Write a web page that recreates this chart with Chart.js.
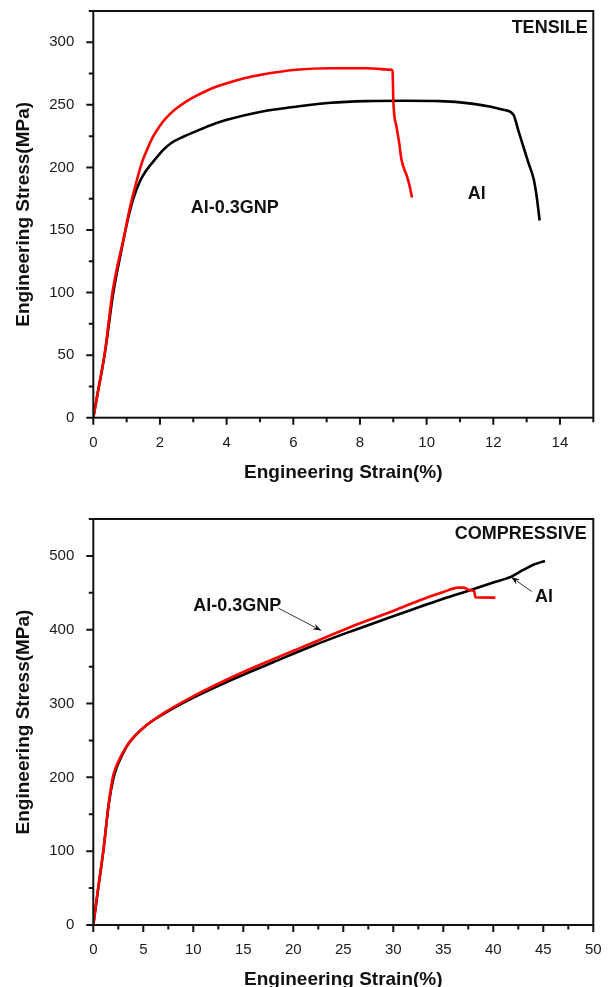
<!DOCTYPE html>
<html>
<head>
<meta charset="utf-8">
<script src="https://cdn.jsdelivr.net/npm/chart.js@4"></script>
<style>
  html, body { margin: 0; padding: 0; background: #fff; overflow: hidden; width: 611px; height: 987px; }
  #c1 { position: absolute; left: 0; top: 0; }
  #c2 { position: absolute; left: 0; top: 492px; }
</style>
</head>
<body>
<canvas id="c1" width="611" height="492"></canvas>
<canvas id="c2" width="611" height="500"></canvas>
<script>
// ---------------- DATA ----------------
// Tensile test (strain %, stress MPa)
const tensileStrainGNP = [0, 0.1, 0.35, 0.58, 0.94, 1.1, 1.29, 1.46, 1.64, 1.8, 1.99, 2.2, 2.46, 2.75, 3.04, 3.5, 3.98, 4.5, 5.03, 6.08, 7.13, 8.19, 8.95, 8.98, 9.0, 9.1, 9.18, 9.24, 9.42, 9.5, 9.56];
const tensileStressGNP = [0, 15, 53, 101, 147, 168, 188, 204, 216, 225, 233, 240, 246.5, 252, 256.5, 262.5, 267, 271, 274, 278, 279.2, 279.2, 278, 276.5, 254, 232, 219, 207, 192, 184, 176];
const tensileStrainAl  = [0, 0.1, 0.35, 0.6, 0.8, 1.05, 1.2, 1.4, 1.6, 1.87, 2.1, 2.34, 2.7, 3.04, 3.5, 3.98, 5.03, 6.08, 7.13, 8.19, 9.36, 10.4, 11.35, 11.93, 12.3, 12.6, 12.75, 12.9, 13.05, 13.22, 13.31, 13.39];
const tensileStressAl  = [0, 15, 52, 100, 128, 160, 175, 189, 198, 207, 214, 219.5, 224.5, 228.4, 233.5, 237.8, 244.5, 248.5, 251.7, 253, 253.3, 253, 251, 248.5, 246, 242.3, 229.6, 216.8, 204, 189.7, 175, 157.6];

// Compressive test (strain %, stress MPa)
const compStrainGNP = [0, 0.5, 1.0, 1.5, 1.95, 2.3, 2.74, 3.52, 5.08, 7.04, 10.16, 14.07, 17.98, 21.89, 25.8, 29.7, 32.67, 35.0, 36.5, 37.0, 37.67, 38.1, 38.2, 40.0, 40.2];
const compStressGNP = [0, 52, 100, 160, 200, 215, 228, 246, 268, 287, 311, 337, 360, 382, 404, 424, 440, 451, 457, 457, 453.6, 452, 444, 443.5, 443.5];
const compStrainAl  = [0, 0.5, 1.0, 1.56, 2.0, 2.3, 2.74, 3.52, 5.08, 7.04, 10.16, 14.07, 17.98, 21.89, 25.8, 29.7, 32.67, 35.0, 37.67, 40.0, 41.74, 43.0, 44.0, 45.17];
const compStressAl  = [0, 50, 100, 165, 198, 212, 226, 245.5, 268, 286, 309, 333.6, 356, 378, 398, 417, 431, 442, 453.6, 464, 471.6, 481, 488, 493.2];

// Axis ranges / ticks
const tensileXTicks = { min: 0, max: 15, minor: 1, major: 2 };
const tensileYTicks = { min: 0, max: 325, minor: 25, major: 50 };
const compXTicks = { min: 0, max: 50, minor: 2.5, major: 5 };
const compYTicks = { min: 0, max: 550, minor: 50, major: 100 };

const seriesNames = ['Al-0.3GNP', 'Al'];
const xTitle = 'Engineering Strain(%)';
const yTitle = 'Engineering Stress(MPa)';

// ---------------- HELPERS ----------------
const FONT = '"Liberation Sans", Arial, Helvetica, sans-serif';
Chart.defaults.font.family = FONT;
Chart.defaults.color = '#1a1a1a';

function pts(xs, ys) { return xs.map((v, i) => ({ x: v, y: ys[i] })); }
function isMajor(v, step) { const r = v / step; return Math.abs(r - Math.round(r)) < 1e-6; }

const frameTicks = {
  id: 'frameTicks',
  afterDraw(chart, args, opts) {
    const { ctx, chartArea: a, scales: { x, y } } = chart;
    ctx.save();
    ctx.strokeStyle = '#111';
    ctx.lineWidth = 2;
    ctx.strokeRect(a.left, a.top, a.right - a.left, a.bottom - a.top);
    ctx.beginPath();
    x.ticks.forEach(t => {
      const px = x.getPixelForValue(t.value);
      const len = isMajor(t.value, opts.xMajor) ? 7 : 4.5;
      ctx.moveTo(px, a.bottom); ctx.lineTo(px, a.bottom + len);
    });
    y.ticks.forEach(t => {
      const py = y.getPixelForValue(t.value);
      const len = isMajor(t.value, opts.yMajor) ? 7 : 4.5;
      ctx.moveTo(a.left, py); ctx.lineTo(a.left - len, py);
    });
    ctx.stroke();
    ctx.restore();
  }
};

const annot = {
  id: 'annot',
  afterDatasetsDraw(chart, args, opts) {
    const { ctx, scales: { x, y } } = chart;
    ctx.save();
    (opts.labels || []).forEach(l => {
      ctx.font = 'bold ' + l.size + 'px ' + FONT;
      ctx.fillStyle = '#111';
      ctx.textAlign = l.align || 'left';
      ctx.textBaseline = 'alphabetic';
      ctx.fillText(l.text, x.getPixelForValue(l.x), y.getPixelForValue(l.y));
    });
    (opts.arrows || []).forEach(ar => {
      const x0 = x.getPixelForValue(ar.from[0]), y0 = y.getPixelForValue(ar.from[1]);
      const x1 = x.getPixelForValue(ar.to[0]), y1 = y.getPixelForValue(ar.to[1]);
      const ang = Math.atan2(y1 - y0, x1 - x0);
      const hl = 9, hw = 3;
      ctx.strokeStyle = '#333';
      ctx.lineWidth = 1;
      ctx.beginPath();
      ctx.moveTo(x0, y0);
      ctx.lineTo(x1 - Math.cos(ang) * hl * 0.8, y1 - Math.sin(ang) * hl * 0.8);
      ctx.stroke();
      ctx.fillStyle = '#111';
      ctx.beginPath();
      ctx.moveTo(x1, y1);
      ctx.lineTo(x1 - Math.cos(ang) * hl - Math.sin(ang) * hw, y1 - Math.sin(ang) * hl + Math.cos(ang) * hw);
      ctx.lineTo(x1 - Math.cos(ang) * hl * 0.7, y1 - Math.sin(ang) * hl * 0.7);
      ctx.lineTo(x1 - Math.cos(ang) * hl + Math.sin(ang) * hw, y1 - Math.sin(ang) * hl - Math.cos(ang) * hw);
      ctx.closePath();
      ctx.fill();
    });
    ctx.restore();
  }
};

function makeChart(canvasId, cfg) {
  return new Chart(document.getElementById(canvasId), {
    type: 'line',
    data: {
      datasets: [
        { label: seriesNames[0], data: pts(cfg.gx, cfg.gy), borderColor: '#ff0000', borderWidth: 2.6,
          pointRadius: 0, fill: false, cubicInterpolationMode: 'monotone' },
        { label: seriesNames[1], data: pts(cfg.ax, cfg.ay), borderColor: '#000000', borderWidth: 2.6,
          pointRadius: 0, fill: false, cubicInterpolationMode: 'monotone' }
      ]
    },
    options: {
      responsive: false,
      animation: false,
      devicePixelRatio: 1,
      layout: { padding: { left: 0, top: cfg.padTop, right: 17.7, bottom: 0 } },
      plugins: {
        legend: { display: false },
        tooltip: { enabled: false },
        frameTicks: { xMajor: cfg.xt.major, yMajor: cfg.yt.major },
        annot: { labels: cfg.labels, arrows: cfg.arrows }
      },
      scales: {
        x: {
          type: 'linear', position: 'bottom',
          min: cfg.xt.min, max: cfg.xt.max,
          afterFit: s => { s.height = cfg.xHeight; s.paddingLeft = 0; s.paddingRight = 0; },
          grid: { display: false, drawTicks: false, tickLength: 0 },
          border: { display: false },
          ticks: {
            stepSize: cfg.xt.minor, autoSkip: false, maxRotation: 0, padding: 16,
            font: { size: 15 }, color: '#1a1a1a',
            callback: v => isMajor(v, cfg.xt.major) ? String(v) : ''
          },
          title: { display: true, text: xTitle, font: { size: 19, weight: 'bold' }, color: '#111',
                   padding: { top: 0, bottom: cfg.xTitlePad } }
        },
        y: {
          type: 'linear', position: 'left',
          min: cfg.yt.min, max: cfg.yt.max,
          afterFit: s => { s.width = 93.3; s.paddingTop = 0; s.paddingBottom = 0; },
          grid: { display: false, drawTicks: false, tickLength: 0 },
          border: { display: false },
          ticks: {
            stepSize: cfg.yt.minor, autoSkip: false, padding: 19,
            font: { size: 15 }, color: '#1a1a1a',
            callback: v => isMajor(v, cfg.yt.major) ? String(v) : ''
          },
          title: { display: true, text: yTitle, font: { size: 19, weight: 'bold' }, color: '#111',
                   padding: { top: 12, bottom: 0 } }
        }
      }
    },
    plugins: [frameTicks, annot]
  });
}

makeChart('c1', {
  gx: tensileStrainGNP, gy: tensileStressGNP, ax: tensileStrainAl, ay: tensileStressAl,
  xt: tensileXTicks, yt: tensileYTicks,
  padTop: 11, xHeight: 74.3, xTitlePad: 8,
  labels: [
    { text: 'TENSILE', x: 14.83, y: 307.8, align: 'right', size: 18 },
    { text: 'Al-0.3GNP', x: 2.92, y: 163.5, align: 'left', size: 18 },
    { text: 'Al', x: 11.23, y: 175, align: 'left', size: 18 }
  ],
  arrows: []
});

makeChart('c2', {
  gx: compStrainGNP, gy: compStressGNP, ax: compStrainAl, ay: compStressAl,
  xt: compXTicks, yt: compYTicks,
  padTop: 27, xHeight: 67, xTitlePad: 1,
  labels: [
    { text: 'COMPRESSIVE', x: 49.34, y: 523.4, align: 'right', size: 18 },
    { text: 'Al-0.3GNP', x: 10.0, y: 424.7, align: 'left', size: 18 },
    { text: 'Al', x: 44.17, y: 438.2, align: 'left', size: 18 }
  ],
  arrows: [
    { from: [18.5, 429.3], to: [22.84, 398.6] },
    { from: [43.84, 451.8], to: [41.74, 471.6] }
  ]
});
</script>
</body>
</html>
